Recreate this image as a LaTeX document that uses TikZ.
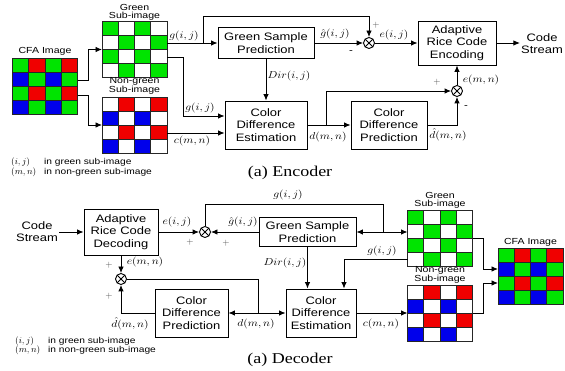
\documentclass[tikz,border=0pt]{standalone}
\usepackage{fontspec}
\setmainfont{Liberation Serif}[FakeStretch=1.2]
\setsansfont{Liberation Sans}[FakeStretch=1.2]
\usepackage{graphicx}
\usetikzlibrary{arrows.meta,calc}
\definecolor{cG}{RGB}{0,228,0}
\definecolor{cR}{RGB}{240,0,0}
\definecolor{cB}{RGB}{0,0,235}
\colorlet{cW}{white}
\newcommand{\mlab}[1]{\scalebox{1.15}[1]{$#1$}}
\newcommand{\pixgrid}[2]{%
  \begin{scope}[shift={(#1.north west)}]
    \foreach \c [count=\k from 0] in {#2} {%
      \pgfmathtruncatemacro{\gcx}{mod(\k,4)}%
      \pgfmathtruncatemacro{\gcy}{int(\k/4)}%
      \filldraw[fill=\c, draw=black!85, line width=0.6pt] ({\gcx*16.25},{\gcy*14}) rectangle ++(16.25,14);
    }
  \end{scope}}
\tikzset{
  blk/.style={draw, line width=0.9pt, font=\sffamily\fontsize{10.8}{12.3}\selectfont, align=center, inner sep=0pt},
  sum/.style={circle, draw, line width=0.9pt, minimum size=11pt, inner sep=0pt,
    path picture={\draw[line width=0.9pt] (path picture bounding box.north west) -- (path picture bounding box.south east)
      (path picture bounding box.north east) -- (path picture bounding box.south west);}},
  ln/.style={line width=0.9pt},
  arr/.style={ln, -{Latex[length=6.5pt,width=5.5pt]}},
  lab/.style={font=\fontsize{9.6}{10}\selectfont, inner sep=0pt},
  sgn/.style={font=\fontsize{9.5}{10}\selectfont, inner sep=0pt, text=black!70},
  imgcap/.style={font=\sffamily\fontsize{8.8}{8}\selectfont, align=center, inner sep=0pt},
  gridbox/.style={minimum width=65pt, minimum height=56pt, inner sep=0pt, outer sep=0pt},
  legm/.style={font=\fontsize{8.6}{9}\selectfont, anchor=west, inner sep=0pt},
  legt/.style={font=\sffamily\fontsize{8.5}{9}\selectfont, anchor=west, inner sep=0pt},
  ttl/.style={font=\fontsize{15}{15}\selectfont, inner sep=0pt},
  strm/.style={font=\sffamily\fontsize{10.8}{12}\selectfont, align=center, inner sep=1pt}
}
\begin{document}
\begin{tikzpicture}[x=1pt, y=-1pt]
\useasboundingbox (0,0) rectangle (565,371);

% ================= ENCODER =================
\node[gridbox] (cfa1) at (45,86.5) {};
\pixgrid{cfa1}{cG,cR,cG,cR,cB,cG,cB,cG,cG,cR,cG,cR,cB,cG,cB,cG}
\node[imgcap] (cfa1t) at (45,51) {CFA Image};

\node[gridbox] (gg1) at (134.5,49.5) {};
\pixgrid{gg1}{cG,cW,cG,cW,cW,cG,cW,cG,cG,cW,cG,cW,cW,cG,cW,cG}
\node[imgcap] (gg1t) at (134.5,12) {Green\\Sub-image};

\node[gridbox] (ng1) at (134.5,125) {};
\pixgrid{ng1}{cW,cR,cW,cR,cB,cW,cB,cW,cW,cR,cW,cR,cB,cW,cB,cW}
\node[imgcap] (ng1t) at (134.5,86) {Non-green\\Sub-image};

\node[blk, minimum width=96pt, minimum height=31pt] (gsp1) at (266,43) {Green Sample\\Prediction};
\node[blk, minimum width=82pt, minimum height=48pt] (cde1) at (266,125) {Color\\Difference\\Estimation};
\node[blk, minimum width=76pt, minimum height=48pt] (cdp1) at (389,125) {Color\\Difference\\Prediction};
\node[blk, minimum width=78pt, minimum height=44pt] (arce) at (457,43) {Adaptive\\Rice Code\\Encoding};
\node[sum] (sum1) at (369,43) {};
\node[sum] (sum2) at (457,91) {};
\node[strm] (cs1) at (542,44) {Code\\Stream};

\coordinate (e1) at (88,80);
\coordinate (e2) at (88,95);
\draw[arr] ($(cfa1.east)+(0,-6.5)$) -- (e1) |- (gg1.west);
\draw[arr] ($(cfa1.east)+(0,8.5)$) -- (e2) |- (ng1.west);

\coordinate (j1) at (203,43);
\coordinate (t1) at (203,16);
\draw[arr] (gg1.east |- gsp1.west) -- (gsp1.west);
\draw[arr] (j1) -- (t1) -| (sum1.north);
\draw[arr] (gsp1.east) -- (sum1.west);
\draw[arr] (sum1.east) -- (arce.west |- sum1.east);
\draw[arr] (arce.east) -- (arce.east -| cs1.west);
\draw[arr] (gsp1.south) -- (cde1.north);

\coordinate (j2) at (183,57);
\coordinate (c2) at ($(cde1.west)+(0,-9)$);
\draw[arr] (gg1.east |- j2) -- (j2) |- (c2);
\coordinate (c1) at ($(cde1.west)+(0,8)$);
\draw[arr] (ng1.east |- c1) -- (c1);

\draw[arr] (cde1.east) -- (cdp1.west);
\coordinate (j3) at (326,125);
\draw[arr] (j3) |- (sum2.west);
\draw[arr] (cdp1.east) -| (sum2.south);
\draw[arr] (sum2.north) -- (arce.south);

\node[lab] (lg1) at (184,36) {\mlab{g(i,j)}};
\node[lab] (lgh1) at (335,34) {\mlab{\hat{g}(i,j)}};
\node[lab] (le1) at (394,35) {\mlab{e(i,j)}};
\node[lab] (ldir1) at (289,76) {\mlab{Dir(i,j)}};
\node[lab] (lg2) at (200,108) {\mlab{g(i,j)}};
\node[lab] (lc1) at (192,141) {\mlab{c(m,n)}};
\node[lab] (ld1) at (328,137) {\mlab{d(m,n)}};
\node[lab] (ldh1) at (448,135) {\mlab{\hat{d}(m,n)}};
\node[lab] (lem1) at (481,80) {\mlab{e(m,n)}};
\node[sgn] (p1) at (376,25) {$+$};
\node[sgn, text=black] (m1) at (351,52) {\sffamily -};
\node[sgn] (p2) at (437,82) {$+$};
\node[sgn, text=black] (m2) at (466,107) {\sffamily -};

\node[legm] (lgi1) at (11,162) {$(i,j)$};
\node[legt] (lgt1) at (44,162) {in green sub-image};
\node[legm] (lgm1) at (11,172) {$(m,n)$};
\node[legt] (lgt2) at (44,172) {in non-green sub-image};

\node[ttl] (tenc) at (290,173) {(a) Encoder};

% ================= DECODER =================
\node[strm] (cs2) at (37,232) {Code\\Stream};
\node[blk, minimum width=74pt, minimum height=46pt] (arcd) at (121,232) {Adaptive\\Rice Code\\Decoding};
\node[sum] (sum3) at (205,232) {};
\node[sum] (sum4) at (121,279) {};
\node[blk, minimum width=97pt, minimum height=29pt] (gsp2) at (307.5,232) {Green Sample\\Prediction};
\node[blk, minimum width=70pt, minimum height=48pt] (cde2) at (321,313) {Color\\Difference\\Estimation};
\node[blk, minimum width=73pt, minimum height=48pt] (cdp2) at (191.5,313) {Color\\Difference\\Prediction};

\node[gridbox] (gg2) at (440,238.5) {};
\pixgrid{gg2}{cG,cW,cG,cW,cW,cG,cW,cG,cG,cW,cG,cW,cW,cG,cW,cG}
\node[imgcap] (gg2t) at (440,200) {Green\\Sub-image};

\node[gridbox] (ng2) at (440,313) {};
\pixgrid{ng2}{cW,cR,cW,cR,cB,cW,cB,cW,cW,cR,cW,cR,cB,cW,cB,cW}
\node[imgcap] (ng2t) at (440,275) {Non-green\\Sub-image};

\node[gridbox] (cfa2) at (530.5,276) {};
\pixgrid{cfa2}{cG,cR,cG,cR,cB,cG,cB,cG,cG,cR,cG,cR,cB,cG,cB,cG}
\node[imgcap] (cfa2t) at (530.5,242) {CFA Image};

\draw[arr] (cs2.east) -- (arcd.west);
\draw[arr] (arcd.east) -- (sum3.west);
\draw[arr] (gsp2.west) -- (sum3.east);
\coordinate (t2) at (383,204);
\coordinate (j4) at (383,232);
\draw[arr] (sum3.north) |- (t2) -- (j4) -- (j4 -| gg2.west);
\draw[arr] (j4) -- (gsp2.east);
\coordinate (j5) at (344,259);
\draw[arr] (j5 -| gg2.west) -- (j5) -- (j5 |- cde2.north);
\draw[arr] (gsp2.south) -- (gsp2.south |- cde2.north);
\draw[arr] (arcd.south) -- (sum4.north);
\draw[arr] (cdp2.west) -| (sum4.south);
\coordinate (j6) at (258,313);
\draw[ln] (sum4.east) -| (j6);
\draw[arr] (j6) -- (cdp2.east);
\draw[arr] (j6) -- (cde2.west);
\draw[arr] (cde2.east) -- (ng2.west);
\coordinate (e3) at (483,238.5);
\coordinate (e4) at (483,313);
\draw[arr] (gg2.east) -- (e3) |- ($(cfa2.west)+(0,-7)$);
\draw[arr] (ng2.east) -- (e4) |- ($(cfa2.west)+(0,7)$);

\node[lab] (le2) at (177,222) {\mlab{e(i,j)}};
\node[lab] (lgh2) at (243,222) {\mlab{\hat{g}(i,j)}};
\node[lab] (lg3) at (288,195) {\mlab{g(i,j)}};
\node[lab] (lg4) at (382,251) {\mlab{g(i,j)}};
\node[lab] (ldir2) at (285,263) {\mlab{Dir(i,j)}};
\node[lab] (lem2) at (145,262) {\mlab{e(m,n)}};
\node[lab] (ldh2) at (130,324) {\mlab{\hat{d}(m,n)}};
\node[lab] (ld2) at (256,324) {\mlab{d(m,n)}};
\node[lab] (lc2) at (381,324) {\mlab{c(m,n)}};
\node[sgn] (p3) at (190,242) {$+$};
\node[sgn] (p4) at (226,243) {$+$};
\node[sgn] (p5) at (109,265) {$+$};
\node[sgn] (p6) at (109,296) {$+$};

\node[legm] (lgi2) at (15,341) {$(i,j)$};
\node[legt] (lgt3) at (48,341) {in green sub-image};
\node[legm] (lgm2) at (15,350) {$(m,n)$};
\node[legt] (lgt4) at (48,350) {in non-green sub-image};

\node[ttl] (tdec) at (290,360) {(a) Decoder};
\end{tikzpicture}
\end{document}
